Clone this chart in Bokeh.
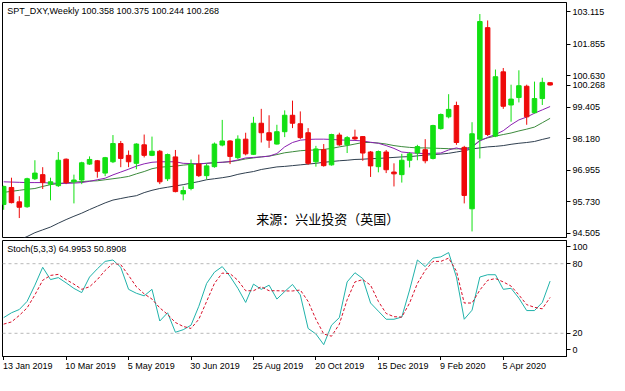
from bokeh.plotting import figure
from bokeh.models import (Range1d, FixedTicker, NumeralTickFormatter, Label, Span,
                          CustomJSTickFormatter)
from bokeh.core.properties import value
from bokeh.layouts import column
from bokeh.embed import file_html
from bokeh.resources import INLINE

# ---------------- data (weekly SPT_DXY, 13 Jan 2019 .. 17 May 2020) ----------------
open_ = [95.62, 96.28, 95.72, 95.53, 96.62, 96.78, 96.41, 96.35, 97.38, 96.50,
         96.57, 97.19, 97.32, 96.84, 97.28, 97.99, 97.53, 97.22, 97.94, 97.53,
         97.69, 96.62, 97.47, 96.03, 96.24, 97.19, 96.74, 97.09, 97.93, 98.09,
         97.44, 98.16, 97.57, 98.78, 98.41, 97.97, 98.45, 99.09, 98.76, 98.41,
         97.28, 97.75, 97.16, 98.32, 97.94, 98.24, 98.26, 97.66, 97.09, 97.66,
         96.88, 96.78, 97.34, 97.62, 97.75, 97.41, 98.57, 99.03, 99.47, 97.84,
         95.45, 98.16, 102.50, 98.28, 100.78, 99.49, 99.78, 100.22, 99.19, 99.74,
         100.358]
high = [96.35, 96.66, 95.94, 96.66, 97.34, 97.07, 96.66, 97.66, 97.41, 96.78,
        97.28, 97.49, 97.35, 97.47, 98.32, 98.09, 97.72, 98.00, 98.34, 98.26,
        97.74, 97.60, 97.74, 96.32, 97.37, 97.56, 97.20, 98.03, 98.91, 98.12,
        98.31, 98.41, 99.03, 99.34, 99.09, 98.72, 99.28, 99.66, 99.24, 98.59,
        97.90, 97.97, 98.37, 98.41, 98.28, 98.53, 98.28, 97.70, 97.72, 97.74,
        97.22, 97.59, 97.66, 97.94, 98.16, 98.72, 99.16, 99.91, 99.62, 97.90,
        98.82, 103.03, 102.78, 100.87, 100.93, 100.28, 100.84, 100.28, 100.40, 100.55,
        100.375]
low = [95.41, 95.66, 95.09, 95.49, 96.57, 96.22, 95.78, 96.30, 96.41, 95.66,
       96.41, 97.16, 96.66, 96.72, 97.23, 97.07, 97.07, 96.99, 97.45, 97.50,
       96.41, 96.53, 96.09, 95.78, 96.17, 96.69, 96.59, 97.05, 97.88, 97.19,
       97.38, 97.53, 97.55, 98.03, 97.82, 97.95, 98.24, 98.59, 98.16, 97.16,
       97.09, 97.09, 97.13, 97.90, 97.62, 98.13, 97.32, 96.69, 96.87, 96.84,
       96.32, 96.47, 97.06, 97.34, 97.22, 97.37, 98.53, 98.97, 97.94, 95.66,
       94.57, 97.41, 98.28, 98.24, 99.34, 98.84, 99.59, 98.72, 99.16, 99.49,
       100.244]
close = [96.32, 95.69, 95.51, 96.62, 96.84, 96.47, 96.50, 97.34, 96.47, 96.57,
         97.24, 97.37, 96.91, 97.44, 97.99, 97.41, 97.28, 97.97, 97.53, 97.69,
         96.50, 97.56, 96.12, 96.16, 97.19, 96.74, 97.12, 97.97, 98.09, 97.49,
         98.16, 97.59, 98.78, 98.41, 98.12, 98.45, 99.09, 98.78, 98.22, 97.22,
         97.78, 97.13, 98.34, 97.94, 98.22, 98.17, 97.62, 97.12, 97.68, 96.97,
         96.81, 97.34, 97.59, 97.87, 97.32, 98.69, 99.12, 99.32, 98.03, 95.97,
         98.37, 102.74, 98.34, 100.59, 99.44, 99.72, 100.24, 99.03, 99.74, 100.37,
         100.268]

ma_fast = [96.50, 96.49, 96.48, 96.47, 96.47, 96.47, 96.45, 96.44, 96.44, 96.45,
           96.47, 96.52, 96.58, 96.64, 96.77, 96.88, 96.99, 97.11, 97.20, 97.26,
           97.28, 97.28, 97.28, 97.22, 97.21, 97.20, 97.22, 97.25, 97.26, 97.29,
           97.35, 97.43, 97.45, 97.47, 97.50, 97.60, 97.86, 98.03, 98.12, 98.15,
           98.16, 98.16, 98.15, 98.13, 98.12, 98.11, 98.09, 98.04, 98.00, 97.91,
           97.80, 97.66, 97.63, 97.61, 97.60, 97.61, 97.62, 97.74, 97.82, 97.73,
           97.86, 98.09, 98.23, 98.34, 98.49, 98.72, 98.91, 99.02, 99.17, 99.30,
           99.43]
ma_mid = [96.09, 96.13, 96.17, 96.21, 96.24, 96.32, 96.39, 96.43, 96.46, 96.49,
          96.51, 96.53, 96.54, 96.58, 96.62, 96.66, 96.71, 96.81, 96.90, 97.01,
          97.07, 97.09, 97.11, 97.15, 97.18, 97.20, 97.22, 97.24, 97.26, 97.28,
          97.33, 97.39, 97.43, 97.47, 97.50, 97.56, 97.63, 97.67, 97.71, 97.73,
          97.74, 97.76, 97.80, 97.86, 97.91, 97.97, 98.03, 98.03, 98.01, 97.97,
          97.91, 97.87, 97.84, 97.82, 97.82, 97.81, 97.80, 97.79, 97.78, 97.80,
          97.85, 98.12, 98.21, 98.28, 98.34, 98.40, 98.48, 98.55, 98.63, 98.80,
          98.97]
ma_slow = [94.07, 94.15, 94.24, 94.37, 94.52, 94.63, 94.74, 94.89, 95.03, 95.16,
           95.28, 95.42, 95.55, 95.68, 95.79, 95.85, 95.91, 95.96, 96.08, 96.17,
           96.24, 96.29, 96.34, 96.39, 96.45, 96.51, 96.58, 96.62, 96.66, 96.71,
           96.79, 96.85, 96.90, 96.98, 97.03, 97.08, 97.10, 97.13, 97.16, 97.19,
           97.22, 97.26, 97.29, 97.32, 97.34, 97.37, 97.38, 97.40, 97.41, 97.43,
           97.45, 97.47, 97.48, 97.51, 97.54, 97.56, 97.58, 97.61, 97.66, 97.71,
           97.78, 97.82, 97.86, 97.88, 97.91, 97.96, 98.00, 98.03, 98.07, 98.15,
           98.22]

stoch_k = [33.5, 37.7, 40.5, 47.5, 61.5, 76.9, 66.3, 68.0, 63.5, 58.7,
           55.1, 68.5, 75.6, 82.0, 83.2, 76.9, 57.9, 54.5, 52.3, 57.9,
           30.6, 37.7, 20.9, 23.1, 27.0, 43.3, 63.0, 72.7, 77.5, 69.1,
           58.8, 46.6, 62.4, 57.9, 61.5, 49.5, 56.0, 62.1, 53.1, 24.2,
           19.4, 10.2, 27.0, 33.5, 64.3, 72.2, 67.2, 46.1, 39.1, 32.1,
           32.1, 34.0, 57.3, 83.2, 77.5, 84.8, 85.9, 89.6, 68.5, 32.1,
           39.9, 68.5, 70.5, 70.5, 57.9, 58.8, 50.3, 39.6, 39.6, 46.6,
           64.9953]
stoch_d = [27.9, 29.8, 35.4, 41.9, 53.1, 65.7, 69.9, 70.8, 66.3, 62.4,
           57.9, 60.1, 66.3, 74.2, 80.3, 79.2, 69.9, 60.1, 54.0, 49.5,
           41.9, 36.3, 29.3, 25.9, 24.2, 32.1, 47.5, 63.0, 71.9, 71.4,
           65.7, 56.7, 56.7, 60.1, 56.7, 56.7, 56.5, 56.5, 57.3, 47.5,
           32.1, 19.4, 17.5, 27.9, 48.9, 64.3, 66.3, 61.5, 47.5, 37.1,
           34.3, 34.0, 46.1, 63.0, 74.2, 82.0, 82.0, 84.8, 73.6, 46.1,
           46.1, 57.3, 65.7, 67.2, 64.3, 60.7, 53.1, 44.7, 42.4, 41.1,
           50.8908]

price_ticks = [94.505, 95.730, 96.955, 98.180, 99.405, 100.630, 101.855, 103.115]
date_tick_idx = [0, 8, 16, 24, 32, 40, 48, 56, 64]
date_tick_labels = ["13 Jan 2019", "10 Mar 2019", "5 May 2019", "30 Jun 2019",
                    "25 Aug 2019", "20 Oct 2019", "15 Dec 2019", "9 Feb 2020", "5 Apr 2020"]
stoch_levels = [20, 80]
title_text = "SPT_DXY,Weekly  100.358 100.375 100.244 100.268"
stoch_text = "Stoch(5,3,3) 64.9953 50.8908"
source_text = "来源：兴业投资（英国）"
last_price = 100.268

# ---------------- styling ----------------
FONT = "Liberation Sans"
FS = "9px"
UP = "#12e012"
DOWN = "#ee0a0a"

xs = list(range(len(close)))
colors = [UP if c >= o else DOWN for o, c in zip(open_, close)]
tops = [max(o, c) for o, c in zip(open_, close)]
bots = [min(o, c) for o, c in zip(open_, close)]

x_range = Range1d(-0.15, 72.1)
W = 609
RB = 43

p1 = figure(width=W, height=238, x_range=x_range, y_range=Range1d(94.333, 103.479),
            output_backend="svg", toolbar_location=None, x_axis_location=None,
            y_axis_location="right", min_border_left=2, min_border_right=RB,
            min_border_top=2, min_border_bottom=1)
p1.grid.visible = False
p1.outline_line_color = "black"
p1.outline_line_alpha = 1
p1.background_fill_color = "white"
p1.border_fill_color = "white"

p1.line(xs, ma_slow, color="#2f3f4f", line_width=1)
p1.line(xs, ma_mid, color="#3c8a3c", line_width=1)
p1.line(xs, ma_fast, color="#8a1fb0", line_width=1)
p1.segment(xs, high, xs, low, color=colors, line_width=1)
p1.vbar(x=xs, width=0.58, top=tops, bottom=bots, fill_color=colors, line_color=colors)

ya = p1.yaxis[0]
ya.ticker = FixedTicker(ticks=sorted(price_ticks + [last_price]))
ya.formatter = NumeralTickFormatter(format="0.000")
ya.major_tick_in = 0
ya.major_tick_out = 4
ya.minor_tick_line_color = None
ya.axis_line_color = "black"
ya.major_tick_line_color = "black"
ya.major_label_standoff = 2
ya.major_label_text_font = FONT
ya.major_label_text_font_size = FS
ya.major_label_text_color = "black"

p1.add_layout(Label(x=0.45, y=103.15, text=title_text, text_font=FONT,
                    text_font_size=FS, text_baseline="middle", text_color="black"))
p1.add_layout(Label(x=41.5, y=95.08, text=source_text, text_font="Noto Sans CJK SC",
                    text_font_size="13px", text_align="center", text_baseline="middle",
                    text_color="black"))

p2 = figure(width=W, height=122, x_range=x_range, y_range=Range1d(0, 100),
            output_backend="svg", toolbar_location=None, x_axis_location="below",
            y_axis_location="right", min_border_left=2, min_border_right=RB,
            min_border_top=2, min_border_bottom=4)
p2.grid.visible = False
p2.outline_line_color = "black"
p2.outline_line_alpha = 1
p2.background_fill_color = "white"
p2.border_fill_color = "white"

for lv in stoch_levels:
    p2.add_layout(Span(location=lv, dimension="width", line_color="#b8b8b8",
                       line_dash="3 3", line_width=1))
p2.line(xs, stoch_k, color="#20b2aa", line_width=1)
p2.line(xs, stoch_d, color="#d8102a", line_width=1, line_dash="3 2")

sy = p2.yaxis[0]
sy.ticker = FixedTicker(ticks=[6, 20, 80, 94.5])
sy.formatter = CustomJSTickFormatter(
    code="return tick > 90 ? '100' : (tick < 10 ? '0' : tick.toFixed(0));")
sy.major_tick_in = 0
sy.major_tick_out = 4
sy.minor_tick_line_color = None
sy.axis_line_color = "black"
sy.major_label_standoff = 2
sy.major_label_text_font = FONT
sy.major_label_text_font_size = FS
sy.major_label_text_color = "black"

sx = p2.xaxis[0]
sx.ticker = FixedTicker(ticks=date_tick_idx)
sx.major_label_overrides = {i: "" for i in date_tick_idx}
sx.major_tick_in = 0
sx.major_tick_out = 4
sx.minor_tick_line_color = None
sx.axis_line_color = "black"
sx.major_label_text_font_size = "1px"
sx.major_label_standoff = 0

p2.add_layout(Label(x=0.45, y=92.5, text=stoch_text, text_font=FONT,
                    text_font_size=FS, text_baseline="middle", text_color="black"))

# date labels strip (left-aligned at each tick, like the terminal's time scale)
p3 = figure(width=W, height=15, x_range=x_range, y_range=Range1d(0, 1),
            output_backend="svg", toolbar_location=None, x_axis_location=None,
            y_axis_location=None, min_border_left=2, min_border_right=RB,
            min_border_top=0, min_border_bottom=0)
p3.grid.visible = False
p3.outline_line_color = None
p3.background_fill_color = "white"
p3.border_fill_color = "white"
p3.text(x=[i - 0.1 for i in date_tick_idx], y=[1.0] * len(date_tick_idx),
        text=date_tick_labels, text_font=value(FONT), text_font_size=FS,
        text_baseline="top", text_align="left", text_color="black")

layout = column(p1, p2, p3, spacing=0)
open("out.html", "w").write(file_html(layout, INLINE))
